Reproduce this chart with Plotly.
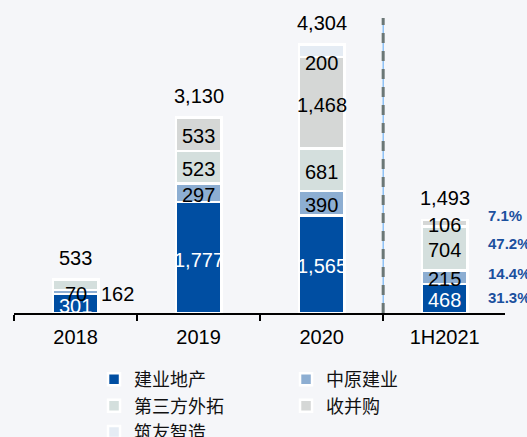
import plotly.graph_objects as go

categories = ["2018", "2019", "2020", "1H2021"]
series_names = ["建业地产", "中原建业", "第三方外拓", "收并购", "筑友智造"]
jianye = [301, 1777, 1565, 468]
zhongyuan = [70, 297, 390, 215]
third_party = [162, 523, 681, 704]
mna = [0, 533, 1468, 106]
zhuyou = [0, 0, 200, 0]
totals = [533, 3130, 4304, 1493]
share_labels_1h2021 = ["31.3%", "14.4%", "47.2%", "7.1%"]

colors = ["#004EA2", "#8DAED2", "#D4DFDD", "#D5D7D6", "#E5ECF4"]
series = [jianye, zhongyuan, third_party, mna, zhuyou]

BG = "#F5F6F9"
NUM_FONT = "Liberation Sans, Arial, sans-serif"
CJK_FONT = "Noto Sans CJK SC, sans-serif"

fig = go.Figure()
for name, vals, col in zip(series_names, series, colors):
    fig.add_trace(go.Bar(
        x=categories, y=vals, name=name,
        marker=dict(color=col, line=dict(color="white", width=2.5)),
        hoverinfo="skip",
    ))

annotations = []
for i, cat in enumerate(categories):
    base = 0
    for s, vals in enumerate(series):
        v = vals[i]
        if v > 0:
            center = base + v / 2
            color = "white" if s == 0 else "black"
            xshift = 0
            yshift = -2
            y = center
            if i == 0 and s == 2:
                y = base - zhongyuan[i] / 2
                xshift = 42
            if s == 4:
                yshift = -12
            annotations.append(dict(
                x=i, y=y, xref="x", yref="y", text=f"{v:,}", showarrow=False,
                xshift=xshift, yshift=yshift,
                font=dict(family=NUM_FONT, size=20, color=color),
            ))
        base += v
    annotations.append(dict(
        x=i, y=totals[i], xref="x", yref="y", text=f"{totals[i]:,}",
        showarrow=False, yshift=21.5,
        font=dict(family=NUM_FONT, size=20, color="black"),
    ))

i = 3
base = 0
pct_yshift = [1, 4, 5, 8]
for s in range(4):
    v = series[s][i]
    center = base + v / 2
    annotations.append(dict(
        x=i, y=center, xref="x", yref="y",
        text=f"<b>{share_labels_1h2021[s]}</b>", showarrow=False,
        xanchor="left", xshift=41, yshift=pct_yshift[s],
        font=dict(family=NUM_FONT, size=15, color="#1B509E"),
    ))
    base += v

fig.update_layout(
    barmode="stack",
    bargap=0.63,
    width=527, height=437,
    margin=dict(l=14, r=22, t=18, b=124, autoexpand=False),
    paper_bgcolor=BG, plot_bgcolor=BG,
    showlegend=True,
    legend=dict(
        orientation="h", x=0.163, xanchor="left", y=-0.163, yanchor="top",
        entrywidth=147, entrywidthmode="pixels",
        font=dict(family=CJK_FONT, size=18, color="#111111"),
        bgcolor="rgba(0,0,0,0)", traceorder="normal",
        tracegroupgap=0, itemclick=False, itemdoubleclick=False,
    ),
    xaxis=dict(
        type="category",
        showline=True, linecolor="black", linewidth=2,
        ticks="outside", ticklen=6, tickwidth=2, tickcolor="black",
        tickson="boundaries", range=[-0.5, 3.49],
        tickfont=dict(family=NUM_FONT, size=20, color="black"),
        ticklabelstandoff=5, showgrid=False, fixedrange=True,
    ),
    yaxis=dict(visible=False, range=[0, 4725], fixedrange=True),
    annotations=annotations,
    shapes=[
        dict(type="line", xref="x", yref="paper", x0=2.5, x1=2.5, y0=0, y1=1,
             line=dict(color="#5AA7F5", width=1)),
        dict(type="line", xref="x", yref="paper", x0=2.5, x1=2.5, y0=0, y1=1,
             line=dict(color="#6B7776", width=3, dash="10px,8px")),
    ],
)

fig.write_html(
    "out.html",
    config={"displayModeBar": False},
    post_script="document.body.style.margin='0';document.body.style.background='#F5F6F9';document.body.style.overflow='hidden';",
)
